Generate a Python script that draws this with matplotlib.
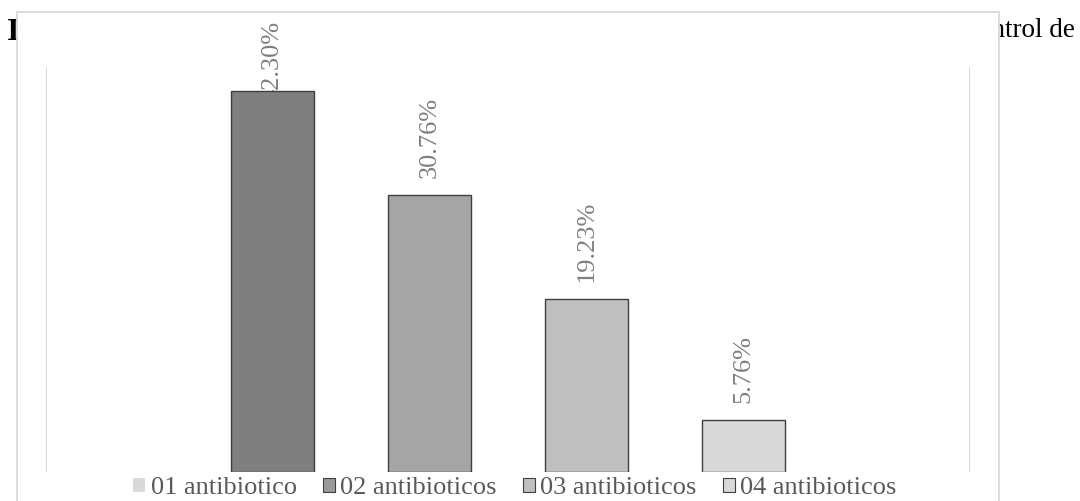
import matplotlib
matplotlib.use("Agg")
import matplotlib.pyplot as plt
from matplotlib.patches import Patch, Rectangle

plt.rcParams['font.family'] = ['Liberation Serif', 'DejaVu Serif']

# Data
categories = ['01 antibiotico', '02 antibioticos', '03 antibioticos', '04 antibioticos']
values = [42.30, 30.76, 19.23, 5.76]
bar_colors = ['#7F7F7F', '#A5A5A5', '#BFBFBF', '#D9D9D9']
legend_colors = ['#D9D9D9', '#999999', '#BFBFBF', '#D9D9D9']

W, H = 1080, 501
fig = plt.figure(figsize=(W / 100, H / 100), dpi=100)
fig.patch.set_facecolor('white')

# Surrounding document text (partly covered by the chart frame)
fig.text(7 / W, (H - 40) / H, 'Ilustración 1.', fontsize=23, fontweight='bold',
         color='black', ha='left', va='baseline', zorder=-3)
fig.text(1075 / W, (H - 37) / H, 'control de', fontsize=19.5,
         color='black', ha='right', va='baseline', zorder=-3)

# Chart frame
frame = Rectangle((17 / W, -0.05), (999 - 17) / W, (H - 12) / H + 0.05,
                  transform=fig.transFigure, facecolor='white',
                  edgecolor='#D9D9D9', linewidth=1.3, zorder=-2)
fig.add_artist(frame)

# Plot area
ax = fig.add_axes([46 / W, (H - 472) / H, (970 - 46) / W, (472 - 67) / H])
ax.set_facecolor('none')
ax.set_zorder(0)
ax.set_xlim(0, 1)
ax.set_ylim(0, 45)
for s in ax.spines.values():
    s.set_visible(False)
ax.set_xticks([])
ax.set_yticks([])

# Category boundary gridlines
ax.axvline(0, color='#D9D9D9', linewidth=1.4, zorder=1)
ax.axvline(1, color='#D9D9D9', linewidth=1.4, zorder=1)

n = len(values)
step = 0.17
width = 0.09
xs = [0.5 + (i - (n - 1) / 2) * step for i in range(n)]
ax.bar(xs, values, width=width, color=bar_colors, edgecolor='#3F3F3F',
       linewidth=1.0, zorder=3)

# Value labels; the tallest one is pushed down and tucks behind its bar
for i, (x, v) in enumerate(zip(xs, values)):
    off = -8 if i == 0 else 12
    ax.annotate(f'{v:.2f}%', xy=(x, v), xytext=(0, off),
                textcoords='offset points', rotation=90,
                ha='center', va='bottom', fontsize=19, color='#7F7F7F',
                annotation_clip=False, zorder=2)

handles = [Patch(facecolor=legend_colors[0], edgecolor='none')] + [
    Patch(facecolor=c, edgecolor='#3F3F3F', linewidth=0.8) for c in legend_colors[1:]]
leg = fig.legend(handles, categories, loc='center', bbox_to_anchor=(515 / W, (H - 488) / H),
                 ncol=4, frameon=False, fontsize=19, handlelength=0.45,
                 handleheight=0.45, handletextpad=0.2, columnspacing=1.0,
                 borderpad=0, labelcolor='#595959')

fig.savefig('out.png', dpi=100, facecolor='white')
